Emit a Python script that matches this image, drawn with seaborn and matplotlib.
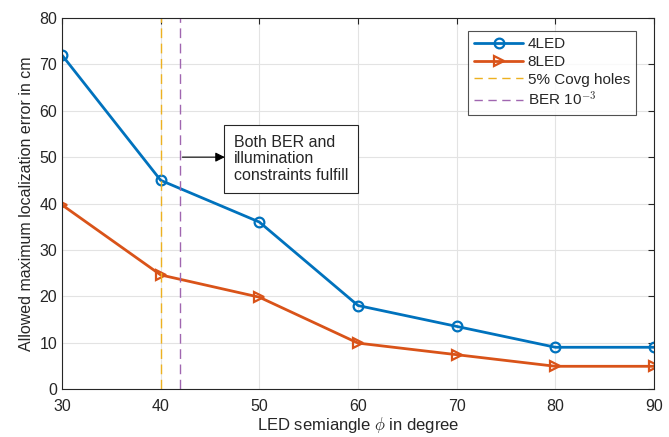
import numpy as np
import pandas as pd
import matplotlib
matplotlib.use('Agg')
import matplotlib.pyplot as plt
from matplotlib.lines import Line2D
import seaborn as sns

# data
semiangle = [30, 40, 50, 60, 70, 80, 90]
err_4led = [72, 45, 36, 18, 13.5, 9, 9]
err_8led = [39.7, 24.6, 19.8, 9.9, 7.4, 4.9, 4.9]
covg_holes_x = 40
ber_x = 42

df = pd.concat([
    pd.DataFrame({'phi': semiangle, 'err': err_4led, 'config': '4LED'}),
    pd.DataFrame({'phi': semiangle, 'err': err_8led, 'config': '8LED'}),
])

sns.set_style('white')
plt.rcParams['font.family'] = ['Liberation Sans', 'DejaVu Sans']
plt.rcParams['mathtext.fontset'] = 'cm'

fig = plt.figure(figsize=(6.69, 4.37), dpi=100)
ax = fig.add_axes([0.0927, 0.1098, 0.885, 0.849])

blue, orange, yellow, purple = '#0072BD', '#D95319', '#EDB120', '#A066B0'
sns.lineplot(data=df, x='phi', y='err', hue='config', style='config',
             markers={'4LED': 'o', '8LED': '>'}, dashes=False,
             palette={'4LED': blue, '8LED': orange}, linewidth=2, markersize=7,
             markerfacecolor='none', markeredgewidth=1.6, ax=ax, legend=False)

# marker edges follow the line colours
for line, c in zip(ax.lines, [blue, orange]):
    line.set_markeredgecolor(c)

ax.axvline(covg_holes_x, color=yellow, lw=1, ls=(0, (7, 4)))
ax.axvline(ber_x, color=purple, lw=1, ls=(0, (7, 4)))

ax.set_xlim(30, 90)
ax.set_ylim(0, 80)
ax.set_xticks(range(30, 91, 10))
ax.set_yticks(range(0, 81, 10))
ax.grid(True, color='#e3e3e3', lw=0.8)
ax.tick_params(direction='in', length=4, labelsize=11.5, colors='#262626',
               labelcolor='#262626', top=True, right=True)
ax.tick_params(axis='x', pad=7)
for s in ax.spines.values():
    s.set_color('#262626')
    s.set_linewidth(0.8)

ax.set_xlabel(r'LED semiangle $\phi$ in degree', fontsize=12, color='#262626', labelpad=1)
ax.set_ylabel('Allowed maximum localization error in cm', fontsize=11.5, color='#262626')

handles = [
    Line2D([], [], color=blue, lw=2, marker='o', mfc='none', mew=1.6, ms=7),
    Line2D([], [], color=orange, lw=2, marker='>', mfc='none', mew=1.6, ms=7),
    Line2D([], [], color=yellow, lw=1, ls=(0, (6, 4))),
    Line2D([], [], color=purple, lw=1, ls=(0, (6, 4))),
]
labels = ['4LED', '8LED', '5% Covg holes', r'BER 10$^{-3}$']
leg = ax.legend(handles, labels, loc='upper right', bbox_to_anchor=(0.9696, 0.965),
                borderaxespad=0, fontsize=11, frameon=True, fancybox=False,
                handlelength=3.2, borderpad=0.4, labelspacing=0.25, handletextpad=0.3)
leg.get_frame().set_edgecolor('#262626')
leg.get_frame().set_linewidth(0.8)

# arrow pointing from the BER line to the text box
ax.annotate('', xy=(46.5, 50), xytext=(42.2, 50),
            arrowprops=dict(arrowstyle='-|>', color='black', lw=0.8,
                            shrinkA=0, shrinkB=0, mutation_scale=14))
ax.text(47.4, 49.6, 'Both BER and\nillumination\nconstraints fulfill',
        fontsize=11.5, va='center', ha='left', linespacing=1.15,
        bbox=dict(boxstyle='square,pad=0.6', fc='white', ec='#262626', lw=0.8))

fig.savefig('out.png', dpi=100)
